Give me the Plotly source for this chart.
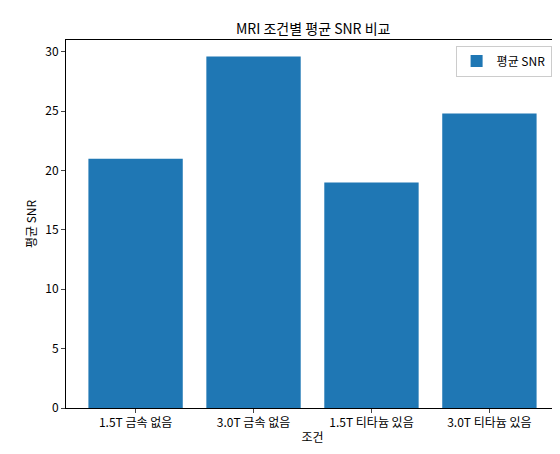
import plotly.graph_objects as go

conditions = ["1.5T 금속 없음", "3.0T 금속 없음", "1.5T 티타늄 있음", "3.0T 티타늄 있음"]
mean_snr = [21.0, 29.6, 19.0, 24.8]

fig = go.Figure(go.Bar(
    x=list(range(len(conditions))), y=mean_snr, name="평균 SNR",
    marker=dict(color="#1f77b4", line=dict(width=0)), width=0.8, showlegend=True
))

fig.update_layout(
    width=560, height=454,
    font=dict(family="Noto Sans CJK KR", size=12, color="black"),
    title=dict(text="MRI 조건별 평균 SNR 비교", x=0.545, xanchor="center", y=0.965, font=dict(size=14)),
    plot_bgcolor="white", paper_bgcolor="white",
    margin=dict(l=58, r=9, t=32, b=54, autoexpand=False),
    xaxis=dict(
        range=[-0.59, 3.59], tickvals=list(range(len(conditions))), ticktext=conditions,
        title=dict(text="조건", standoff=4, font=dict(size=12)), showline=True, linecolor="black", mirror=True,
        ticks="outside", ticklen=4, showgrid=False, zeroline=False, automargin=False
    ),
    yaxis=dict(
        range=[0, 31.0], dtick=5, title=dict(text="평균 SNR", standoff=6, font=dict(size=12)),
        showline=True, linecolor="black", mirror=True,
        ticks="outside", ticklen=4, showgrid=False, zeroline=False, automargin=False
    ),
    legend=dict(x=0.985, y=0.985, xanchor="right", yanchor="top",
                bordercolor="#cccccc", borderwidth=1, bgcolor="white"),
)

fig.write_html("out.html")
